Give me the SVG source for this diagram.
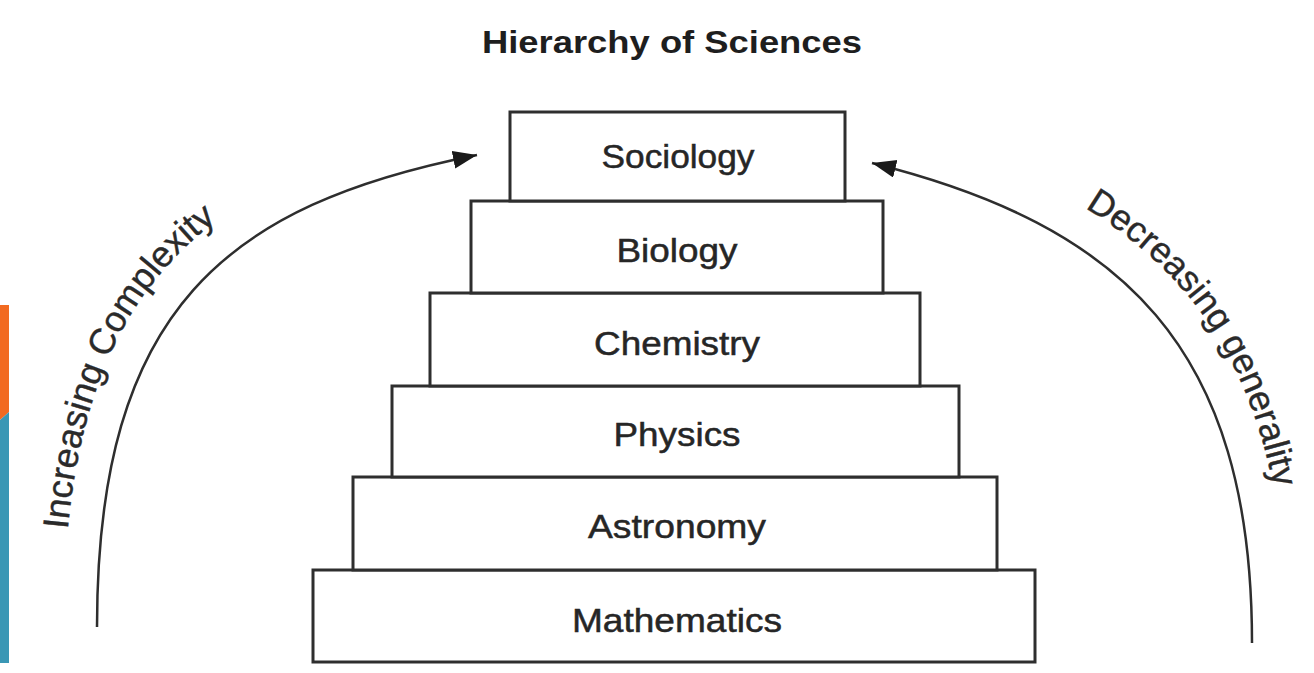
<svg xmlns="http://www.w3.org/2000/svg" width="1314" height="673" viewBox="0 0 1314 673">
  <style>
    .box { fill: #ffffff; stroke: #2e2e2e; stroke-width: 3; }
    .lbl { font-family: "Liberation Sans", Arial, sans-serif; font-size: 34px; fill: #262626; stroke: #262626; stroke-width: 0.5; text-anchor: middle; }
    .title { font-family: "Liberation Sans", Arial, sans-serif; font-size: 32px; font-weight: bold; fill: #1e1e1e; text-anchor: middle; }
    .arc { fill: none; stroke: #2e2e2e; stroke-width: 2.5; }
    .side { font-family: "Liberation Sans", Arial, sans-serif; font-size: 36px; fill: #2a2a2a; stroke: #2a2a2a; stroke-width: 0.4; }
  </style>
  <defs>
    <marker id="arrow" markerUnits="userSpaceOnUse" markerWidth="26" markerHeight="20" refX="24" refY="9" orient="auto">
      <path d="M0,0 L24,9 L0,18 z" fill="#1a1a1a"/>
    </marker>
    <path id="leftBase" d="M63.5,625.5 C63.5,285.8 202.8,176.1 469,122.8"/>
    <path id="rightBase" d="M880.6,128.6 C1148.1,195.4 1287.2,324.4 1287.2,642.2"/>
  </defs>
  <rect x="0" y="0" width="1314" height="673" fill="#ffffff"/>

  <g id="side-bars">
    <polygon points="0,305 9,305 9,412 0,420" fill="#f26a21"/>
    <polygon points="0,420 9,412 9,663 0,663" fill="#3a97b5"/>
  </g>

  <g id="title">
    <text class="title" x="672" y="53" textLength="380" lengthAdjust="spacingAndGlyphs">Hierarchy of Sciences</text>
  </g>

  <g id="node-mathematics">
    <rect class="box" x="313" y="570" width="722" height="92"/>
    <text class="lbl" x="677" y="632" textLength="210" lengthAdjust="spacingAndGlyphs">Mathematics</text>
  </g>
  <g id="node-astronomy">
    <rect class="box" x="353" y="477" width="644" height="93"/>
    <text class="lbl" x="677" y="538" textLength="178" lengthAdjust="spacingAndGlyphs">Astronomy</text>
  </g>
  <g id="node-physics">
    <rect class="box" x="392" y="386" width="567" height="91"/>
    <text class="lbl" x="677" y="446" textLength="127" lengthAdjust="spacingAndGlyphs">Physics</text>
  </g>
  <g id="node-chemistry">
    <rect class="box" x="430" y="293" width="490" height="93"/>
    <text class="lbl" x="677" y="355" textLength="166" lengthAdjust="spacingAndGlyphs">Chemistry</text>
  </g>
  <g id="node-biology">
    <rect class="box" x="471" y="201" width="412" height="92"/>
    <text class="lbl" x="677" y="262" textLength="121" lengthAdjust="spacingAndGlyphs">Biology</text>
  </g>
  <g id="node-sociology">
    <rect class="box" x="510" y="112" width="335" height="89"/>
    <text class="lbl" x="678" y="168" textLength="153" lengthAdjust="spacingAndGlyphs">Sociology</text>
  </g>

  <g id="connectors">
    <path class="arc" d="M97,627 C97,308 227,205 477,155" marker-end="url(#arrow)"/>
    <path class="arc" d="M1252,643 C1252,346 1122,225.5 872,163" marker-end="url(#arrow)"/>
  </g>

  <g id="arc-labels">
    <text class="side"><textPath href="#leftBase" startOffset="96">Increasing Complexity</textPath></text>
    <text class="side"><textPath href="#rightBase" startOffset="220">Decreasing generality</textPath></text>
  </g>
</svg>
